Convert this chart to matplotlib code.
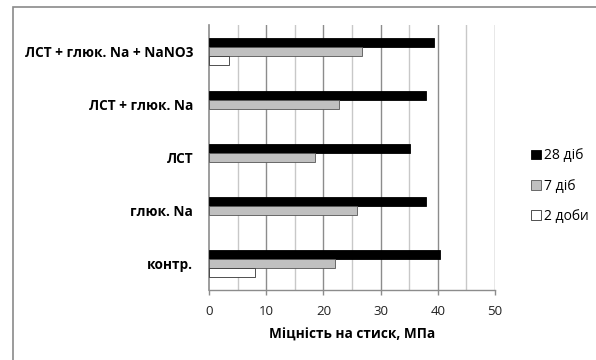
import matplotlib
matplotlib.use("Agg")
import matplotlib.pyplot as plt
from matplotlib.patches import Rectangle, Patch
import numpy as np

plt.rcParams['font.family'] = ['Open Sans', 'DejaVu Sans']

categories = ["контр.", "глюк. Na", "ЛСТ", "ЛСТ + глюк. Na", "ЛСТ + глюк. Na + NaNO3"]
days_28 = [40.4, 38.0, 35.2, 38.0, 39.4]
days_7 = [22.1, 25.8, 18.5, 22.8, 26.8]
days_2 = [8.1, 0.0, 0.0, 0.0, 3.5]
series_labels = ["28 діб", "7 діб", "2 доби"]
x_ticks = [0, 10, 20, 30, 40, 50]
x_label = "Міцність на стиск, МПа"

W, H = 596, 360
fig = plt.figure(figsize=(W / 100, H / 100), dpi=100)
ax = fig.add_axes([209 / W, 1 - 290 / H, (495 - 209) / W, (290 - 25) / H])

y = np.arange(len(categories))
h = 1 / 6
lw2 = [0.6 if v > 0 else 0 for v in days_2]
ax.barh(y + h, days_28, height=h, color="black", edgecolor="black", linewidth=0.6, zorder=3)
ax.barh(y, days_7, height=h, color="#c0c0c0", edgecolor="#555555", linewidth=0.6, zorder=3)
ax.barh(y - h, days_2, height=h, color="white", edgecolor="#333333", linewidth=lw2, zorder=3)

ax.set_xlim(0, 50)
ax.set_ylim(-0.5, len(categories) - 0.5)

# gridlines: darker at multiples of 10, lighter at the 5s
for v in np.arange(5, 51, 5):
    c = "#8c8c8c" if v % 10 == 0 else "#c8c8c8"
    ax.axvline(v, color=c, linewidth=1.0, zorder=1)

ax.set_xticks(x_ticks)
ax.set_xticklabels([str(t) for t in x_ticks], fontsize=9.5, color="#222222")
ax.tick_params(axis="x", length=3.5, width=1, color="#8c8c8c", pad=7.5)
ax.set_yticks(y)
ax.set_yticklabels(categories, fontsize=9.8, fontweight="bold")
ax.tick_params(axis="y", length=0, pad=11.5)

for s in ["top", "right"]:
    ax.spines[s].set_visible(False)
ax.spines["left"].set_color("#8c8c8c")
ax.spines["bottom"].set_color("#8c8c8c")
ax.spines["left"].set_linewidth(1.2)
ax.spines["bottom"].set_linewidth(1.0)

ax.set_xlabel(x_label, fontsize=9.8, fontweight="bold", labelpad=7)

handles = [
    Patch(facecolor="black", edgecolor="black", linewidth=0.6),
    Patch(facecolor="#c0c0c0", edgecolor="#555555", linewidth=0.6),
    Patch(facecolor="white", edgecolor="#333333", linewidth=0.6),
]
fig.legend(handles, series_labels, loc="center left",
           bbox_to_anchor=(524 / W, 1 - 186 / H), frameon=False,
           fontsize=10, handlelength=0.7, handleheight=0.7,
           handletextpad=0.25, labelspacing=1.1, borderpad=0)

# outer chart frame
fig.patches.append(Rectangle((12.5 / W, -0.1), 1.2, (H - 7) / H + 0.1,
                             transform=fig.transFigure, fill=False,
                             edgecolor="#8a8a8a", linewidth=1.2))

fig.savefig("out.png", dpi=100, facecolor="white")
